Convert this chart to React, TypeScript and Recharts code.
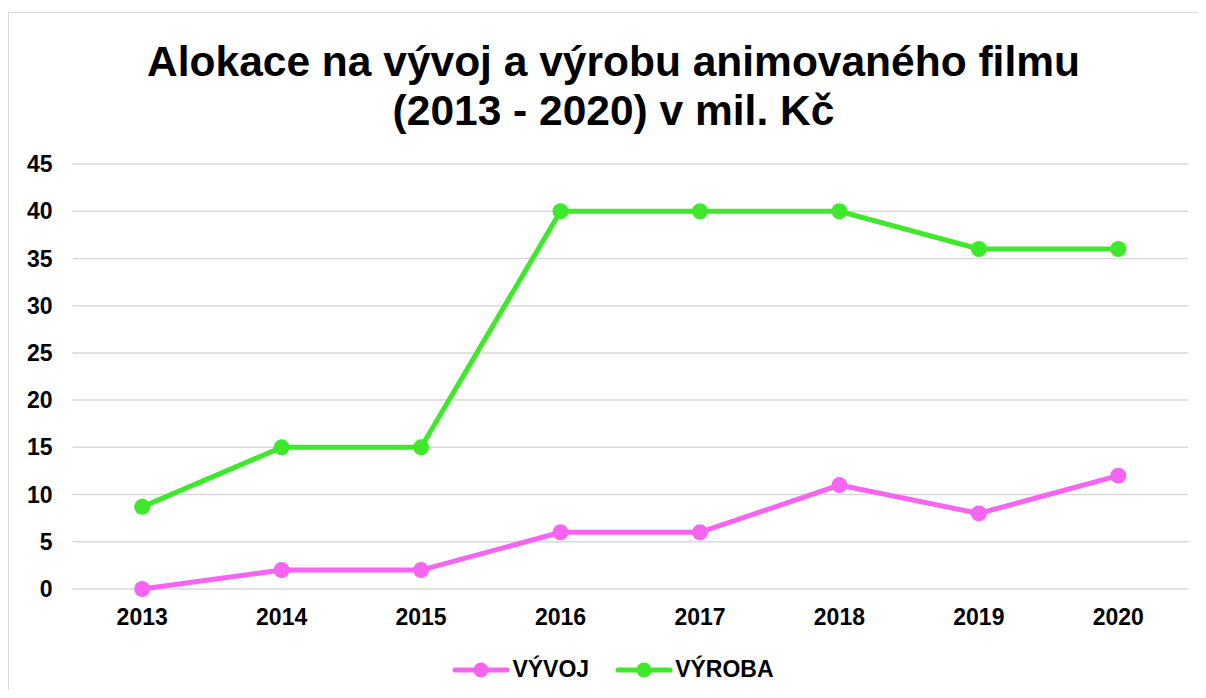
import React from "react";
import { LineChart, Line, XAxis, YAxis, CartesianGrid, Legend } from "recharts";

const years = ["2013", "2014", "2015", "2016", "2017", "2018", "2019", "2020"];
const vyvoj = [0, 2, 2, 6, 6, 11, 8, 12];
const vyroba = [8.7, 15, 15, 40, 40, 40, 36, 36];
const yTicks = [0, 5, 10, 15, 20, 25, 30, 35, 40, 45];

const PINK = "#f764f2";
const GREEN = "#3ee82a";
const FONT = "'Liberation Sans', Arial, sans-serif";

const data = years.map((y, i) => ({ year: y, vyvoj: vyvoj[i], vyroba: vyroba[i] }));

const seriesDefs = [
  { key: "vyvoj", name: "VÝVOJ", color: PINK },
  { key: "vyroba", name: "VÝROBA", color: GREEN },
];

const LegendContent = () => (
  <div
    style={{
      display: "flex",
      justifyContent: "center",
      alignItems: "center",
      fontFamily: FONT,
      fontWeight: 700,
      fontSize: 23,
      color: "#000",
    }}
  >
    {seriesDefs.map((s, i) => (
      <div
        key={s.key}
        style={{ display: "flex", alignItems: "center", marginLeft: i === 0 ? 0 : 26 }}
      >
        <svg width={58} height={20} style={{ display: "block" }}>
          <line x1={3} y1={10} x2={55} y2={10} stroke={s.color} strokeWidth={5} strokeLinecap="round" />
          <circle cx={29} cy={10} r={7.5} fill={s.color} />
        </svg>
        <span style={{ marginLeft: 2 }}>{s.name}</span>
      </div>
    ))}
  </div>
);

export default function App() {
  return (
    <div
      style={{
        position: "relative",
        width: 1190,
        height: 690,
        overflow: "hidden",
        marginBottom: -8,
      }}
    >
      <div
        style={{
          position: "absolute",
          left: 0,
          top: 4,
          width: 1300,
          height: 800,
          borderLeft: "1.5px solid #d9d9d9",
          borderTop: "1.5px solid #d9d9d9",
          boxSizing: "border-box",
        }}
      />
      <div
        style={{
          position: "absolute",
          left: 0,
          top: 29,
          width: 1211,
          textAlign: "center",
          fontFamily: FONT,
          fontWeight: 700,
          fontSize: 42.5,
          lineHeight: "49px",
          color: "#000",
          whiteSpace: "nowrap",
        }}
      >
        Alokace na vývoj a výrobu animovaného filmu
        <br />
        (2013 - 2020) v mil. Kč
      </div>
      <div style={{ position: "absolute", left: 0, top: 0 }}>
        <LineChart
          width={1190}
          height={690}
          data={data}
          margin={{ top: 156, right: 10, bottom: 69, left: 0 }}
        >
          <CartesianGrid vertical={false} stroke="#d9d9d9" strokeWidth={1.5} />
          <XAxis
            dataKey="year"
            axisLine={false}
            tickLine={false}
            tickSize={0}
            tickMargin={20}
            height={40}
            padding={{ left: 69.7, right: 69.7 }}
            interval={0}
            tick={{ fill: "#000", fontSize: 23, fontWeight: 700, fontFamily: FONT }}
          />
          <YAxis
            domain={[0, 45]}
            ticks={yTicks}
            interval={0}
            axisLine={false}
            tickLine={false}
            tickSize={0}
            tickMargin={20}
            width={64.5}
            tick={{ fill: "#000", fontSize: 23, fontWeight: 700, fontFamily: FONT }}
          />
          <Legend
            layout="horizontal"
            verticalAlign="middle"
            align="center"
            content={<LegendContent />}
            wrapperStyle={{ top: 648, left: 0, width: 1210 }}
          />
          {seriesDefs.map((s) => (
            <Line
              key={s.key}
              type="linear"
              dataKey={s.key}
              name={s.name}
              stroke={s.color}
              strokeWidth={5}
              dot={{ r: 8, fill: s.color, stroke: "none" }}
              activeDot={false}
              isAnimationActive={false}
            />
          ))}
        </LineChart>
      </div>
    </div>
  );
}
